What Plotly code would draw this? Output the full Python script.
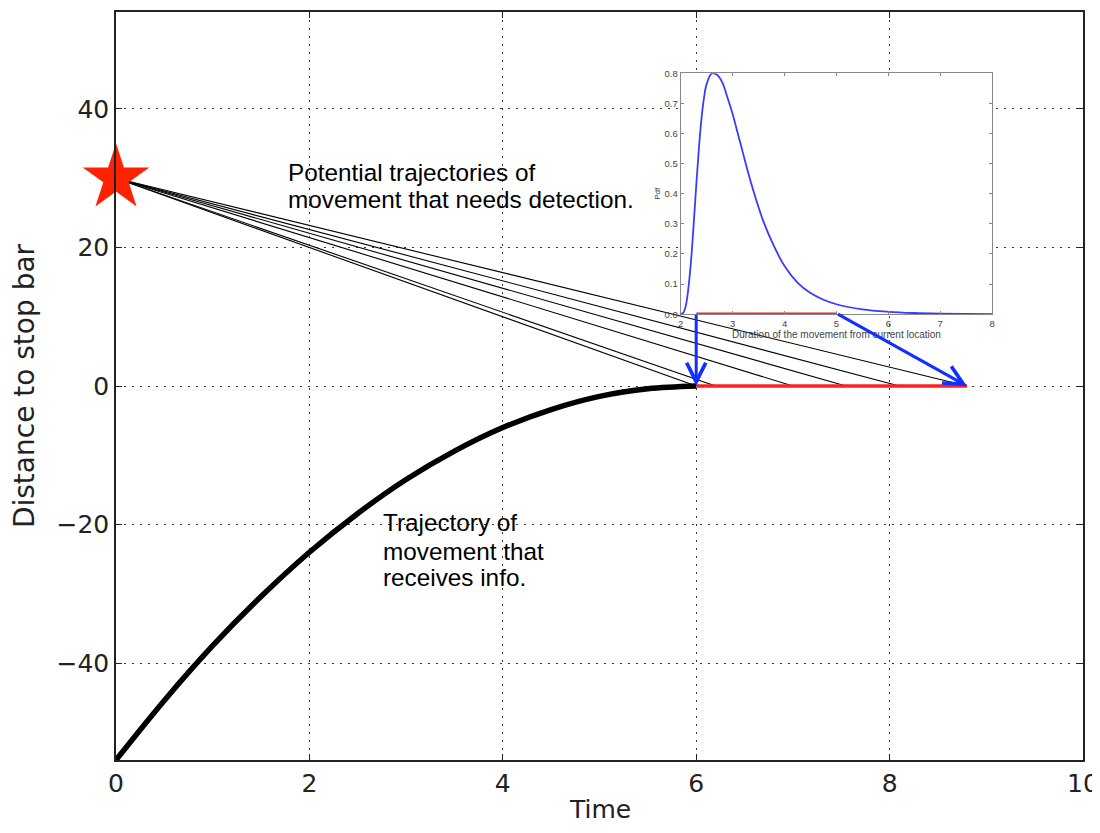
import plotly.graph_objects as go

# ---- data ----
curve_t = [0, 0.5, 1, 1.5, 2, 2.5, 3, 3.5, 4, 4.5, 5, 5.5, 6]
curve_d = [-54, -45.4, -37.5, -30.4, -24, -18.4, -13.5, -9.4, -6, -3.4, -1.5, -0.4, 0]

star_t = [0]
star_d = [30]
end_times = [6.0, 6.2, 7.0, 7.55, 8.1, 8.8]
red_main = [6.0, 8.8]

pdf_x = [2.0, 2.05, 2.1, 2.15, 2.2, 2.25, 2.3, 2.35, 2.4, 2.45, 2.5, 2.6, 2.7, 2.8, 2.9, 3.0,
         3.1, 3.2, 3.3, 3.4, 3.5, 3.6, 3.8, 4.0, 4.25, 4.5, 4.75, 5.0, 5.5, 6.0, 6.5, 7.0, 7.5, 8.0]
pdf_y = [0.0, 0.005, 0.03, 0.09, 0.18, 0.30, 0.43, 0.55, 0.65, 0.72, 0.765, 0.80, 0.795, 0.77,
         0.72, 0.665, 0.60, 0.535, 0.47, 0.41, 0.355, 0.305, 0.225, 0.16, 0.105, 0.07, 0.048,
         0.033, 0.016, 0.008, 0.004, 0.002, 0.001, 0.0005]
red_inset = [2.3, 5.0]

text_top = ["Potential trajectories of", "movement that needs detection."]
text_bottom = ["Trajectory of", "movement that", "receives info."]
x_title = "Time"

fig = go.Figure()

# trajectories
for te in end_times:
    fig.add_trace(go.Scatter(x=[star_t[0], te], y=[star_d[0], 0], mode="lines",
                             line=dict(color="black", width=1.1), showlegend=False,
                             hoverinfo="skip"))

# receiving trajectory
fig.add_trace(go.Scatter(x=curve_t, y=curve_d, mode="lines",
                         line=dict(color="black", width=5.5, shape="spline"),
                         showlegend=False))

# red window on main axes
fig.add_trace(go.Scatter(x=red_main, y=[0, 0], mode="lines",
                         line=dict(color="#ff2020", width=3.5), showlegend=False))

# star
fig.add_trace(go.Scatter(x=star_t, y=star_d, mode="markers",
                         marker=dict(symbol="star", size=50, color="#ff2200",
                                     line=dict(width=0)),
                         cliponaxis=False, showlegend=False))

# inset
fig.add_trace(go.Scatter(x=pdf_x, y=pdf_y, mode="lines", xaxis="x2", yaxis="y2",
                         line=dict(color="#3b3bff", width=1.8, shape="spline"),
                         showlegend=False))
fig.add_trace(go.Scatter(x=red_inset, y=[0, 0], mode="lines", xaxis="x2", yaxis="y2",
                         line=dict(color="#ff2020", width=3.5), cliponaxis=False,
                         showlegend=False))

main_font = "DejaVu Sans"
grid_common = dict(showgrid=True, gridcolor="#333333", gridwidth=1, griddash="2px,6px",
                   zeroline=False, showline=True, linecolor="#222222", linewidth=1.5,
                   mirror="ticks", ticks="inside", ticklen=6, tickcolor="#222222",
                   automargin=False, ticklabeloverflow="allow",
                   tickfont=dict(family=main_font, size=25, color="#222222"))

inset_common = dict(showgrid=False, zeroline=False, showline=True, linecolor="#888888",
                    linewidth=1.2, mirror="ticks", ticks="inside", ticklen=3,
                    tickcolor="#888888", automargin=False,
                    tickfont=dict(family="Liberation Sans", size=9.5, color="#444444"))

annotations = []
for line, yy in zip(text_top, [30.8, 26.9]):
    annotations.append(dict(x=1.76, y=yy, xref="x", yref="y", xanchor="left",
                            yanchor="middle", showarrow=False, text=line,
                            font=dict(family="Liberation Sans", size=24.3, color="black")))
for line, yy in zip(text_bottom, [-19.7, -23.9, -27.6]):
    annotations.append(dict(x=2.74, y=yy, xref="x", yref="y", xanchor="left",
                            yanchor="middle", showarrow=False, text=line,
                            font=dict(family="Liberation Sans", size=24.3, color="black")))
annotations += [
    dict(x=6.0, y=0, xref="x", yref="y", ax=6.0, ay=10.5, axref="x", ayref="y",
         showarrow=True, arrowhead=5, arrowsize=1.25, arrowwidth=3,
         arrowcolor="#1030ff", text="", standoff=0),
    dict(x=8.8, y=0, xref="x", yref="y", ax=7.45, ay=10.5, axref="x", ayref="y",
         showarrow=True, arrowhead=5, arrowsize=1.25, arrowwidth=3,
         arrowcolor="#1030ff", text="", standoff=0),
    dict(x=0.5, y=-0.066, xref="paper", yref="paper", xanchor="center", yanchor="middle",
         showarrow=False, text=x_title,
         font=dict(family=main_font, size=25, color="#222222")),
]

fig.update_layout(
    width=1084, height=817,
    margin=dict(l=108, r=9, t=4, b=65),
    paper_bgcolor="white", plot_bgcolor="white",
    xaxis=dict(range=[0, 10], dtick=2, domain=[0, 1], **grid_common),
    yaxis=dict(range=[-54, 54], tickvals=[-40, -20, 0, 20, 40], domain=[0, 1],
               title=dict(text="Distance to stop bar",
                          font=dict(family=main_font, size=28, color="#222222"),
                          standoff=17),
               **grid_common),
    xaxis2=dict(domain=[0.584, 0.906], anchor="y2", range=[2, 8], dtick=1,
                title=dict(text="Duration of the movement from current location",
                           font=dict(family="Liberation Sans", size=10, color="#444444"),
                           standoff=2),
                **inset_common),
    yaxis2=dict(domain=[0.596, 0.918], anchor="x2", range=[0, 0.8], dtick=0.1,
                tickformat=".1f",
                title=dict(text="Pdf",
                           font=dict(family="Liberation Sans", size=8, color="#444444"),
                           standoff=2),
                **inset_common),
    annotations=annotations,
)

fig.write_html("out.html")
